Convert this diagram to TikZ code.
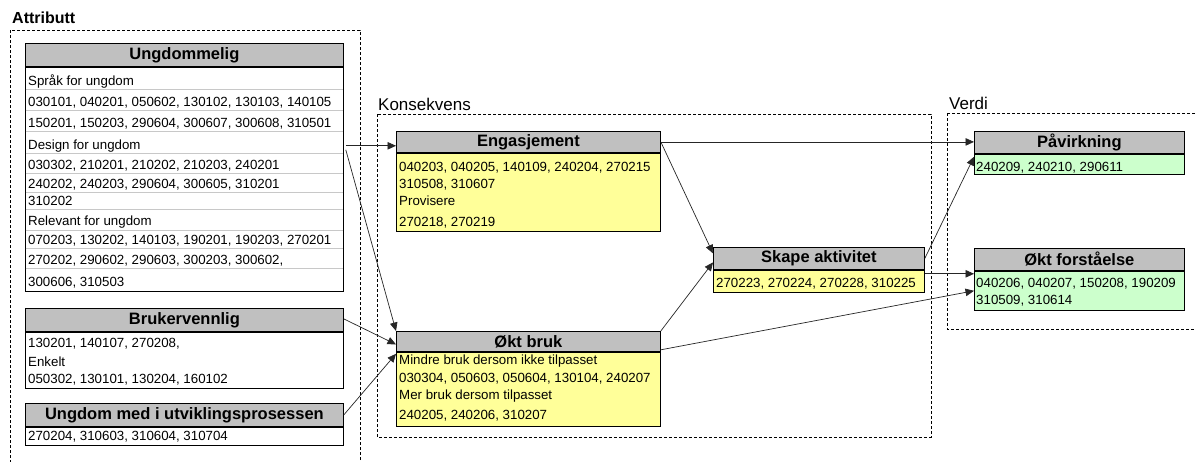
\documentclass[tikz,border=0pt]{standalone}
\usepackage{fontspec}
\setmainfont{Liberation Sans}
\usetikzlibrary{arrows.meta,calc}
\definecolor{hdrgray}{HTML}{C0C0C0}
\definecolor{paleyellow}{HTML}{FFFF99}
\definecolor{palegreen}{HTML}{CCFFCC}
\definecolor{rowline}{HTML}{C8C8C8}

\begin{document}
\begin{tikzpicture}[x=1pt,y=-1pt,
  hdr/.style={draw=black, line width=0.8pt, fill=hdrgray, anchor=north west,
    inner sep=0pt, font=\fontsize{16.5}{18}\selectfont\bfseries},
  bodybox/.style={draw=black, line width=0.8pt, anchor=north west, inner sep=0pt},
  row/.style={anchor=base west, inner sep=0pt, font=\fontsize{13.3}{15}\selectfont},
  grouplabel/.style={anchor=base west, inner sep=0pt, font=\fontsize{17}{19}\selectfont},
  group/.style={draw=black, line width=0.7pt, dash pattern=on 3pt off 2pt},
  sep/.style={draw=rowline, line width=0.8pt},
  arr/.style={draw=black!85, line width=0.7pt, -{Triangle[length=8.5pt,width=7.5pt]}}
]
\useasboundingbox (0,0) rectangle (1196,461);
\clip (0,0) rectangle (1196,461);
\fill[white] (0,0) rectangle (1196,461);

% group frames and their titles
\draw[group] (10,30) rectangle (360,480);
\node[grouplabel, font=\fontsize{16}{18}\selectfont\bfseries] (tAttr) at (12,23) {Attributt};
\draw[group] (377,114) rectangle (931,437);
\node[grouplabel] (tKons) at (378,110) {Konsekvens};
\draw[group] (947,113) rectangle (1210,329);
\node[grouplabel] (tVerdi) at (949,109) {Verdi};

% ---- Attributt: Ungdommelig
\node[hdr, minimum width=318pt, minimum height=23pt] (ung) at (25,43) {Ungdommelig};
\node[bodybox, fill=white, minimum width=318pt, minimum height=224pt] (ungB) at (ung.south west) {};
\foreach \yy in {89,110,131,153,173,192,209,230,248,268}
  \draw[sep] (25.5,\yy) -- (342.5,\yy);
\node[row] (u1) at (28,85) {Språk for ungdom};
\node[row] (u2) at (28,106) {030101, 040201, 050602, 130102, 130103, 140105};
\node[row] (u3) at (28,127) {150201, 150203, 290604, 300607, 300608, 310501};
\node[row] (u4) at (28,149) {Design for ungdom};
\node[row] (u5) at (28,169) {030302, 210201, 210202, 210203, 240201};
\node[row] (u6) at (28,188) {240202, 240203, 290604, 300605, 310201};
\node[row] (u7) at (28,205) {310202};
\node[row] (u8) at (28,225) {Relevant for ungdom};
\node[row] (u9) at (28,244) {070203, 130202, 140103, 190201, 190203, 270201};
\node[row] (u10) at (28,264) {270202, 290602, 290603, 300203, 300602,};
\node[row] (u11) at (28,286) {300606, 310503};

% ---- Attributt: Brukervennlig
\node[hdr, minimum width=318pt, minimum height=23pt] (brk) at (25,308) {Brukervennlig};
\node[bodybox, fill=white, minimum width=318pt, minimum height=56pt] (brkB) at (brk.south west) {};
\node[row] (b1) at (28,347) {130201, 140107, 270208,};
\node[row] (b2) at (28,366) {Enkelt};
\node[row] (b3) at (28,383) {050302, 130101, 130204, 160102};

% ---- Attributt: Ungdom med i utviklingsprosessen
\node[hdr, minimum width=318pt, minimum height=23pt] (umd) at (25,403) {Ungdom med i utviklingsprosessen};
\node[bodybox, fill=white, minimum width=318pt, minimum height=18pt] (umdB) at (umd.south west) {};
\node[row] (m1) at (28,440) {270204, 310603, 310604, 310704};

% ---- Konsekvens: Engasjement
\node[hdr, minimum width=264pt, minimum height=21pt] (eng) at (396,131) {Engasjement};
\node[bodybox, fill=paleyellow, minimum width=264pt, minimum height=78pt] (engB) at (eng.south west) {};
\node[row] (e1) at (399,171) {040203, 040205, 140109, 240204, 270215};
\node[row] (e2) at (399,188) {310508, 310607};
\node[row] (e3) at (399,205) {Provisere};
\node[row] (e4) at (399,226) {270218, 270219};

% ---- Konsekvens: Økt bruk
\node[hdr, minimum width=264pt, minimum height=20pt] (okt) at (396,331) {Økt bruk};
\node[bodybox, fill=paleyellow, minimum width=264pt, minimum height=74pt] (oktB) at (okt.south west) {};
\node[row] (o1) at (399,364) {Mindre bruk dersom ikke tilpasset};
\node[row] (o2) at (399,382) {030304, 050603, 050604, 130104, 240207};
\node[row] (o3) at (399,399) {Mer bruk dersom tilpasset};
\node[row] (o4) at (399,419) {240205, 240206, 310207};

% ---- Konsekvens: Skape aktivitet
\node[hdr, minimum width=211pt, minimum height=22pt] (ska) at (713,247) {Skape aktivitet};
\node[bodybox, fill=paleyellow, minimum width=211pt, minimum height=22pt] (skaB) at (ska.south west) {};
\node[row] (s1) at (716,287) {270223, 270224, 270228, 310225};

% ---- Verdi: Påvirkning
\node[hdr, minimum width=210pt, minimum height=22pt] (pav) at (974,131) {Påvirkning};
\node[bodybox, fill=palegreen, minimum width=210pt, minimum height=20pt] (pavB) at (pav.south west) {};
\node[row] (p1) at (976,171) {240209, 240210, 290611};

% ---- Verdi: Økt forståelse
\node[hdr, minimum width=210pt, minimum height=22pt] (okf) at (974,248) {Økt forståelse};
\node[bodybox, fill=palegreen, minimum width=210pt, minimum height=39pt] (okfB) at (okf.south west) {};
\node[row] (f1) at (976,287) {040206, 040207, 150208, 190209};
\node[row] (f2) at (976,304) {310509, 310614};

% ---- connectors
\coordinate (uOut) at ($(ungB.north east)+(2,79)$);
\draw[arr] (uOut) -- (uOut -| eng.west);
\draw[arr] ($(ungB.north east)+(2,83)$) -- (okt.north west);
\draw[arr] ([yshift=1pt]brk.east) -- ([yshift=-3pt]okt.west);
\draw[arr] (umd.east) -- ([yshift=-2pt]oktB.north west);
\draw[arr] (eng.east) -- (eng.east -| pav.west);
\draw[arr] (eng.east) -- ([yshift=5pt]ska.west);
\draw[arr] (okt.north east) -- ([yshift=-4pt]ska.west);
\draw[arr] ([yshift=2pt]okt.south east) -- ([yshift=-20pt]okfB.north west);
\draw[arr] (ska.east) -- ([yshift=-3pt]pavB.north west);
\coordinate (sOut) at ([yshift=-4pt]skaB.north east);
\draw[arr] (sOut) -- (sOut -| okfB.west);
\end{tikzpicture}
\end{document}
